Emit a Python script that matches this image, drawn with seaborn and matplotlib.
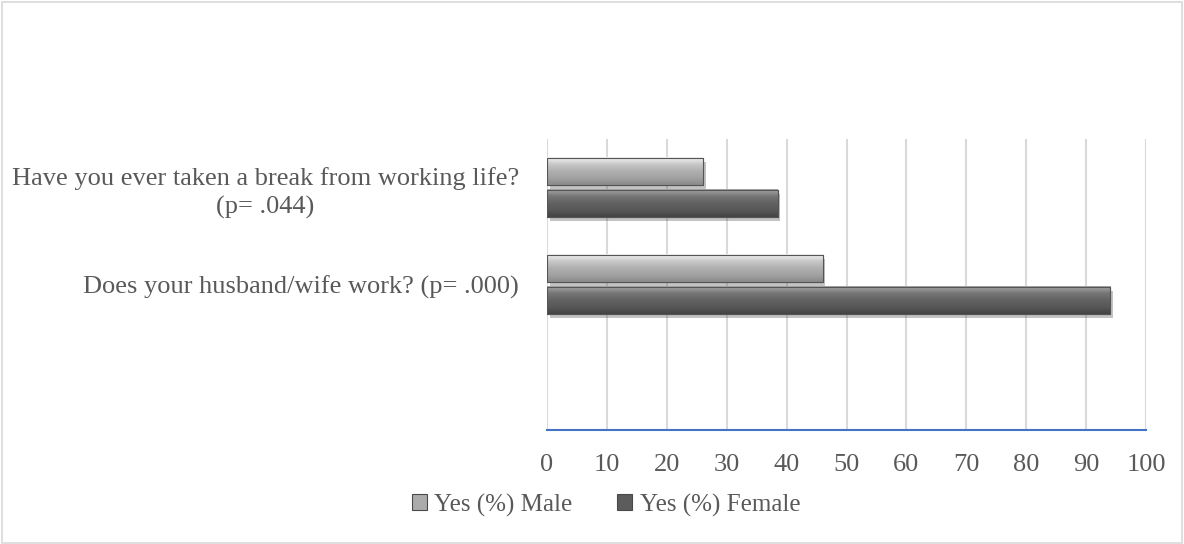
import numpy as np
import pandas as pd
import matplotlib
matplotlib.use("Agg")
import matplotlib.pyplot as plt
import matplotlib.patheffects as pe
from matplotlib.patches import Patch, Rectangle
import seaborn as sns

# data
questions = ["Have you ever taken a break from working life?\n(p= .044)",
             "Does your husband/wife work? (p= .000)",
             " "]
male = [26, 46]
female = [38.5, 94]
series = ["Yes (%) Male", "Yes (%) Female"]
x_ticks = list(range(0, 101, 10))

df = pd.DataFrame({
    "question": questions[:2] * 2,
    "series": [series[0]] * 2 + [series[1]] * 2,
    "value": male + female,
})

sns.set_style("white")
plt.rcParams["font.family"] = ["Liberation Serif", "DejaVu Serif"]
txt = "#595959"

fig = plt.figure(figsize=(11.84, 5.44), dpi=100)
ax = fig.add_axes([547 / 1184, 1 - 430 / 544, (1146 - 547) / 1184, (430 - 139) / 544])

colors = {"Yes (%) Male": "#ababab", "Yes (%) Female": "#5c5c5c"}
sns.barplot(data=df, y="question", x="value", hue="series", order=questions,
            hue_order=series, palette=colors, orient="h", width=0.66,
            dodge=True, legend=False, ax=ax, edgecolor="#4a4a4a", linewidth=0.8)

ax.set_xlim(0, 100)
ax.set_ylim(2.5, -0.5)

# shrink bars a bit (gap inside the pair), then gradient fill + soft shadow
grads = {"#ababab": ["#f4f4f4", "#c8c8c8", "#b0b0b0", "#a2a2a2", "#8a8a8a"],
         "#5c5c5c": ["#a8a8a8", "#767676", "#626262", "#585858", "#444444"]}
bars = [p for p in ax.patches if p.get_width() > 0]
for p in bars:
    h = p.get_height()
    newh = h * 0.86
    p.set_y(p.get_y() + (h - newh) / 2)
    p.set_height(newh)
    fc = matplotlib.colors.to_hex(p.get_facecolor())
    cmap = matplotlib.colors.LinearSegmentedColormap.from_list("g", grads.get(fc, [fc, fc]))
    p.set_path_effects([pe.SimplePatchShadow(offset=(2, -3), alpha=0.35, shadow_rgbFace="#555555"),
                        pe.Normal()])
    x0, y0 = p.get_x(), p.get_y()
    w, hh = p.get_width(), p.get_height()
    grad = np.linspace(0, 1, 64).reshape(-1, 1)
    ax.imshow(grad, cmap=cmap, aspect="auto", extent=(x0, x0 + w, y0 + hh, y0),
              zorder=5, interpolation="bilinear")
    # bevel at the bar end
    ax.add_patch(Rectangle((x0, y0), w, hh, fill=False,
                           edgecolor="#555555", linewidth=0.8, zorder=6))
ax.set_xlim(0, 100)
ax.set_ylim(2.5, -0.5)

ax.set_xticks(x_ticks)
ax.set_xticklabels([str(t) for t in x_ticks])
ax.set_xlabel("")
ax.set_ylabel("")
ax.grid(axis="x", color="#d9d9d9", linewidth=1.5)
ax.set_axisbelow(True)
for s in ["top", "right", "left"]:
    ax.spines[s].set_visible(False)
ax.spines["bottom"].set_color("#4472c4")
ax.spines["bottom"].set_linewidth(1.5)
ax.spines["bottom"].set_zorder(7)
ax.tick_params(axis="x", length=0, pad=17, labelsize=19, labelcolor=txt)
ax.tick_params(axis="y", length=0, pad=20, labelsize=19, labelcolor=txt)
for lab in ax.get_yticklabels():
    lab.set_multialignment("center")
    lab.set_linespacing(1.3)

handles = [Patch(facecolor=colors[s], edgecolor="#4a4a4a", linewidth=0.8) for s in series]
fig.legend(handles, series, loc="center", bbox_to_anchor=(606 / 1184, 1 - 505 / 544),
           ncol=2, frameon=False, fontsize=18, labelcolor=txt, handlelength=0.6,
           handleheight=0.6, handletextpad=0.3, columnspacing=1.8)

# chart border
fig.patches.append(Rectangle((0.002, 0.002), 0.996, 0.994, transform=fig.transFigure,
                             fill=False, edgecolor="#d9d9d9", linewidth=1.2))

fig.savefig("out.png", dpi=100)
